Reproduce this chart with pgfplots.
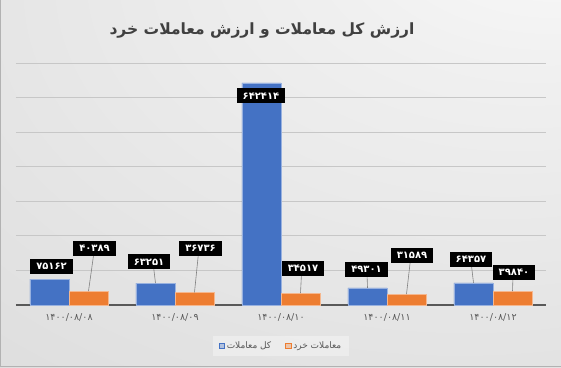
\documentclass[border=0pt]{standalone}
\usepackage{fontspec}
\usepackage{pgfplots}
\usepackage{pgfplotstable}
\pgfplotsset{compat=1.18}
\setmainfont{DejaVu Sans}
\newfontfamily\arabicfont[Script=Arabic]{DejaVu Sans}
\TeXXeTstate=1
\definecolor{barblue}{HTML}{4472C4}
\definecolor{barorange}{HTML}{ED7D31}
\definecolor{txtgray}{HTML}{595959}
\definecolor{titlegray}{HTML}{404040}
\pgfdeclareradialshading{bgshade}{\pgfpoint{28bp}{42bp}}{color(0bp)=(black!1); color(20bp)=(black!6); color(60bp)=(black!13); color(90bp)=(black!19); color(110bp)=(black!22)}

\pgfplotstableread{
x v
0 75162
1 63251
2 642414
3 49301
4 64357
}\bluedata
\pgfplotstableread{
x v
0 40389
1 36736
2 34517
3 31589
4 39840
}\orangedata
\pgfplotstableread{
lx ly lab
-0.165 111600 ۷۵۱۶۲
0.755 124600 ۶۳۲۵۱
1.811 605800 ۶۴۲۴۱۴
2.807 102900 ۴۹۳۰۱
3.792 131900 ۶۴۳۵۷
0.241 163800 ۴۰۳۸۹
1.241 163800 ۳۶۷۳۶
2.208 105800 ۳۴۵۱۷
3.236 143500 ۳۱۵۸۹
4.198 94200 ۳۹۸۴۰
}\labeldata

\begin{document}
\begin{tikzpicture}[x=1pt,y=1pt]
\useasboundingbox (0,0) rectangle (561,367);
\shade[shading=bgshade] (0,0) rectangle (561,367);
\draw[black!30, line width=0.8pt] (0.4,367) -- (0.4,0.4) -- (561,0.4);
\node[font=\arabicfont\bfseries\fontsize{15.5}{18}\selectfont, text=titlegray] at (262,336) {\beginR ارزش کل معاملات و ارزش معاملات خرد\endR};
\begin{axis}[
  at={(16pt,62pt)}, anchor=south west,
  scale only axis, width=530pt, height=242pt,
  xmin=-0.5, xmax=4.5, ymin=0, ymax=700000,
  axis x line*=bottom, axis y line*=left,
  y axis line style={draw=none},
  x axis line style={draw=black!65, line width=2.2pt, -},
  ytick={100000,200000,300000,400000,500000,600000,700000},
  yticklabels={}, scaled y ticks=false,
  ymajorgrids, grid style={black!22, line width=0.9pt},
  xtick={0,1,2,3,4},
  xticklabels={{۱۴۰۰/۰۸/۰۸},{۱۴۰۰/۰۸/۰۹},{۱۴۰۰/۰۸/۱۰},{۱۴۰۰/۰۸/۱۱},{۱۴۰۰/۰۸/۱۲}},
  major tick length=0pt, xtick style={draw=none}, ytick style={draw=none},
  xticklabel style={font=\arabicfont\fontsize{9.5}{11}\selectfont, text=txtgray, yshift=-5pt},
  clip=false,
  legend columns=2,
  legend style={at={(0.5,-0.169)}, anchor=center, draw=none, fill=white, fill opacity=0.35, text opacity=1,
    font=\arabicfont\fontsize{9}{10}\selectfont, text=txtgray,
    /tikz/every even column/.append style={column sep=12pt}, inner xsep=6pt, inner ysep=4pt},
]
\addplot[ybar, bar shift=0pt, bar width=0.368, fill=barblue, draw=barblue!55!white, line width=0.5pt,
  legend image code/.code={\fill[barblue] (0pt,-2.8pt) rectangle (5.5pt,2.7pt);}]
  table[x expr=\thisrow{x}-0.184, y=v] \bluedata;
\addlegendentry{\beginR کل معاملات\endR}
\addplot[ybar, bar shift=0pt, bar width=0.368, fill=barorange, draw=barorange!55!white, line width=0.5pt,
  legend image code/.code={\fill[barorange] (0pt,-2.8pt) rectangle (5.5pt,2.7pt);}]
  table[x expr=\thisrow{x}+0.184, y=v] \orangedata;
\addlegendentry{\beginR معاملات خرد\endR}
\addplot[forget plot, black!50, line width=0.6pt, mark=none, empty line=jump] table[x=x, y=y] {
x y
0.816 63251
0.792 124600

2.816 49301
2.810 102900

3.816 64357
3.790 131900

0.184 40389
0.241 163800

1.184 36736
1.226 163800

2.184 34517
2.196 105800

3.184 31589
3.226 143500

4.184 39840
4.190 94200
};
\addplot[forget plot, draw=none, mark=none, nodes near coords={\pgfplotspointmeta}, point meta=explicit symbolic,
  every node near coord/.append style={anchor=center, fill=black, text=white,
    font=\arabicfont\bfseries\fontsize{10}{12}\selectfont, inner xsep=6pt, inner ysep=3.5pt,
    text height=7.5pt, text depth=0.5pt}]
  table[x=lx, y=ly, meta=lab] \labeldata;
\end{axis}
\end{tikzpicture}
\end{document}
